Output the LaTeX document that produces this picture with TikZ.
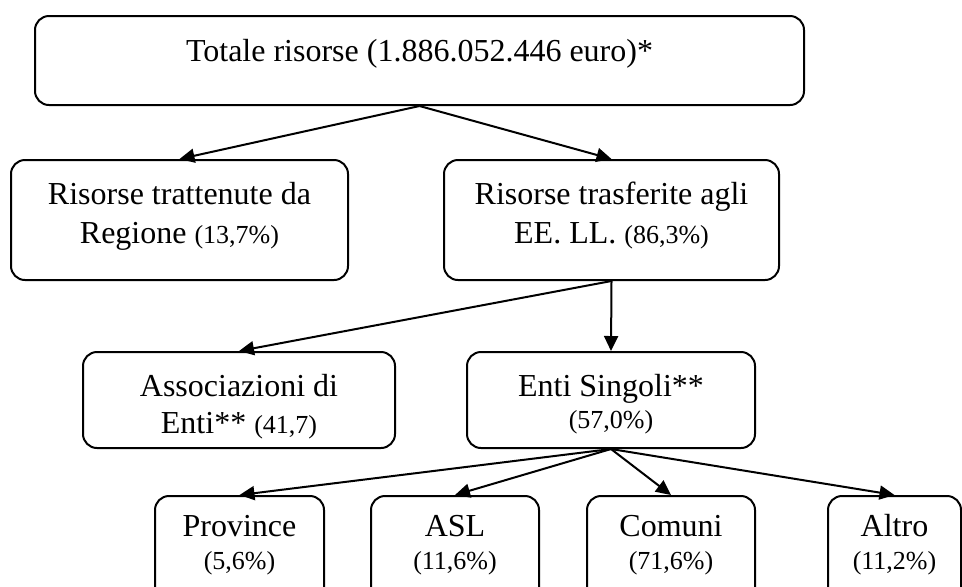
\documentclass[tikz,border=0pt]{standalone}
\usepackage{fontspec}
\setmainfont{Liberation Serif}
\usetikzlibrary{arrows.meta}
\newcommand{\boxfont}{\fontsize{16}{19.5}\selectfont}
\newcommand{\pctfont}{\fontsize{13}{19.5}\selectfont}

\begin{document}
\begin{tikzpicture}[
        x=0.5pt, y=-0.5pt,
        >={Triangle[width=7pt,length=7.5pt]},
        box/.style={draw, line width=1pt, rounded corners=7pt, align=center,
            inner sep=0pt, anchor=north west, font=\boxfont},
        wide/.style={box, text height=41.5pt, text depth=18.5pt},
        mid/.style={box, text height=40.5pt, text depth=7.5pt},
        leaf/.style={box, text height=36.5pt, text depth=16pt},
        arrow/.style={->, line width=1pt},
    ]
    \useasboundingbox (0,0) rectangle (962,586);
    \clip (0,0) rectangle (962,586);

    % Nodes
    \node[box, minimum width=384.5pt, text height=22.5pt, text depth=22pt] (total) at (34,15)
        {Totale risorse (1.886.052.446 euro)*};
    \node[wide, minimum width=168.5pt] (regione) at (10,159)
        {Risorse trattenute da\\ Regione {\pctfont (13,7\%)}};
    \node[wide, minimum width=167.5pt] (eell) at (443,159)
        {Risorse trasferite agli\\ EE. LL. {\pctfont (86,3\%)}};
    \node[mid, minimum width=156pt] (assoc) at (82,351)
        {Associazioni di\\[-1pt] Enti** {\pctfont (41,7)}};
    \node[mid, minimum width=144pt, text height=38pt, text depth=10pt] (singoli) at (466,351)
        {Enti Singoli**\\[-3.5pt] {\pctfont (57,0\%)}};
    \node[leaf, minimum width=84.5pt] (province) at (154,495)
        {Province\\[-3pt] {\pctfont (5,6\%)}};
    \node[leaf, minimum width=84pt] (asl) at (370,495)
        {ASL\\[-3pt] {\pctfont (11,6\%)}};
    \node[leaf, minimum width=84pt] (comuni) at (586,495)
        {Comuni\\[-3pt] {\pctfont (71,6\%)}};
    \node[leaf, minimum width=66.5pt] (altro) at (827,495)
        {Altro\\[-3pt] {\pctfont (11,2\%)}};

    % Arrows
    \draw[arrow] (total.south) -- (regione.north);
    \draw[arrow] (total.south) -- (eell.north);
    \draw[arrow] (eell.south) -- (assoc.north);
    \draw[arrow] (eell.south) -- (singoli.north);
    \draw[arrow] (singoli.south) -- (province.north);
    \draw[arrow] (singoli.south) -- (asl.north);
    \draw[arrow] (singoli.south) -- (comuni.north);
    \draw[arrow] (singoli.south) -- (altro.north);

\end{tikzpicture}
\end{document}
